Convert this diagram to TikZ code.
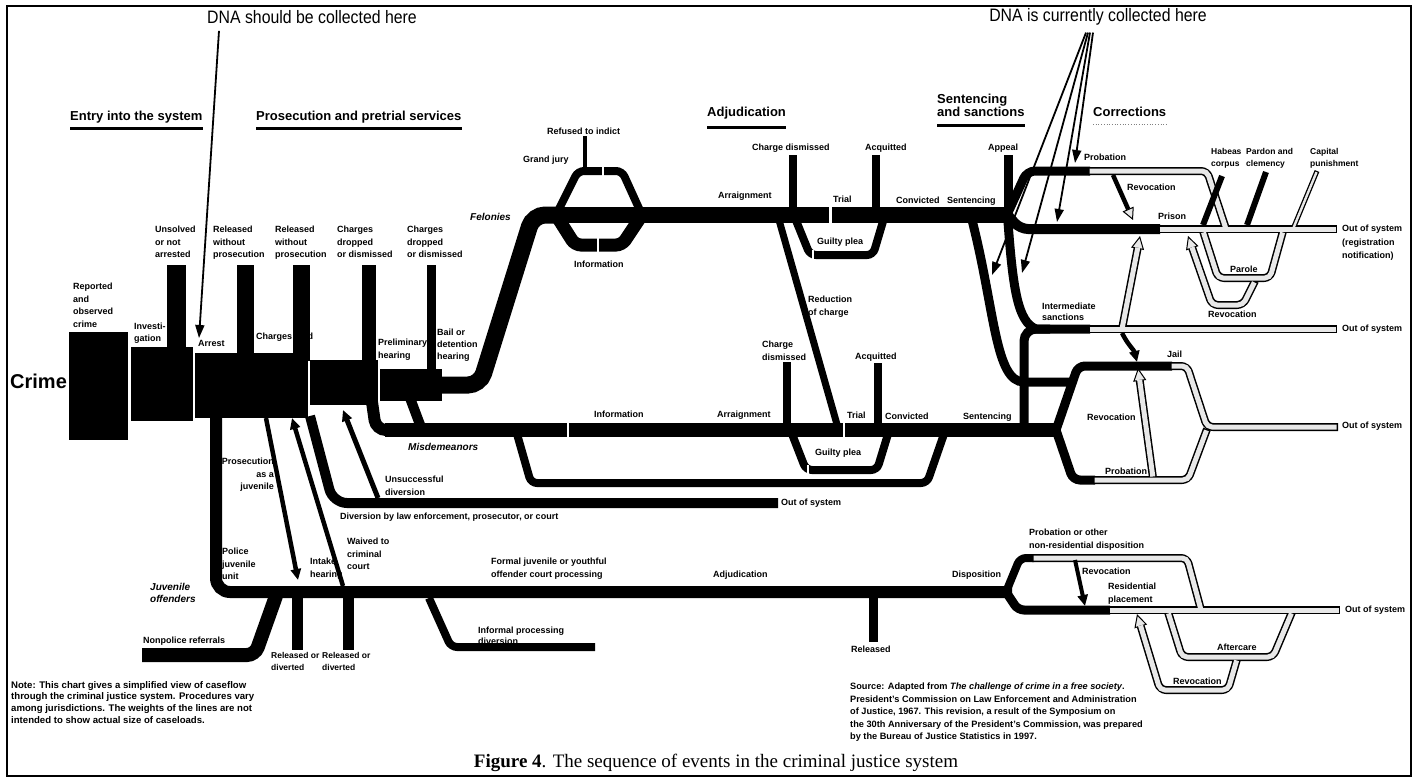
\documentclass[tikz,border=0pt]{standalone}
\usepackage{fontspec}
\setmainfont{Liberation Serif}
\setsansfont{Liberation Sans}
\newfontfamily\dnafont[FakeStretch=0.88]{Liberation Sans}
\usetikzlibrary{arrows.meta}
\tikzset{
  lb/.style={anchor=north west, inner sep=0pt, align=left, font=\sffamily\bfseries\fontsize{9}{12.5}\selectfont},
  lbs/.style={lb, font=\sffamily\bfseries\fontsize{8.5}{12}\selectfont},
  lbi/.style={lb, font=\sffamily\bfseries\itshape\fontsize{10}{12.5}\selectfont},
  hd/.style={anchor=north west, inner sep=0pt, align=left, font=\sffamily\bfseries\fontsize{13}{13}\selectfont},
  rulebar/.style={line width=3pt},
  pipe/.style={line width=#1, rounded corners=6pt},
  hout/.style={line width=8pt, rounded corners=6pt},
  hin/.style={line width=5pt, draw=gray!18, rounded corners=5pt, shorten <=1.5pt, shorten >=1.5pt},
  hthinout/.style={line width=5pt},
  hthinin/.style={line width=2.4pt, draw=gray!18, shorten <=1.2pt, shorten >=1.2pt},
  hoarr/.style={-{Triangle[length=13pt,width=13pt,line width=1pt,fill=gray!18]}},
  hiarr/.style={shorten >=12pt},
  dna/.style={line width=1.8pt, -{Triangle[length=13pt,width=9pt]}},
  barr/.style={-{Triangle[length=11pt,width=10pt]}},
  oarr/.style={-{Triangle[length=12pt,width=12pt,line width=1pt,fill=gray!18]}},
  gapw/.style={fill=white},
  dnalabel/.style={inner sep=0pt, font=\dnafont\fontsize{18}{18}\selectfont},
}
\newcommand\hpaths[2]{%
 \draw[#1] (1088,171) -- (1207,171) -- (1226,229);
 \draw[#1] (1158,229) -- (1337,229);
 \draw[#1] (1203,231) -- (1218,278) -- (1270,278) -- (1283,231);
 \draw[#1,#2] (1255,281) -- (1243,305) -- (1212,305) -- (1188,236);
 \draw[#1] (1088,329) -- (1337,329);
 \draw[#1,#2] (1122,329) -- (1140,236);
 \draw[#1] (1170,366) -- (1187,366) -- (1207,427) -- (1338,427);
 \draw[#1] (1093,480) -- (1188,480) -- (1207,429);
 \draw[#1,#2] (1153,478) -- (1138,368);
 \draw[#1] (1032,558) -- (1187,558) -- (1201,610);
 \draw[#1] (1108,610) -- (1340,610);
 \draw[#1] (1168,612) -- (1182,657) -- (1273,657) -- (1292,612);
 \draw[#1,#2] (1237,659) -- (1228,690) -- (1160,690) -- (1137,614);
}
\begin{document}
\begin{tikzpicture}[x=1pt,y=-1pt]
\useasboundingbox (0,0) rectangle (1418,779);
\fill[white] (0,0) rectangle (1418,779);
\draw[line width=1.5pt] (7,6) rectangle (1411,776);

% labels that sit under shapes
\node[lb] (lbChfiled) at (256,333) {Charges filed};
\node[lb, anchor=north east, align=right] (lbProsJuv) at (274,458) {Prosecution\\as a\\juvenile};

% entry blocks
\fill (69,332) rectangle (128,440);
\fill (131,347) rectangle (193,421);
\fill (195,353) rectangle (308,418);
\fill (310,360) rectangle (378,405);
\fill (380,369) rectangle (442,401);
% stubs
\fill (167,265) rectangle (186,348);
\fill (237,265) rectangle (254,354);
\fill (293,265) rectangle (310,361);
\fill (362,265) rectangle (376,361);
\fill (427,265) rectangle (436,370);

% felony path
\draw[pipe=17pt, rounded corners=12pt] (436,385) -- (480,385) -- (533,215) -- (562,215);
\draw[pipe=8pt] (556,215) -- (578,171) -- (622,171) -- (642,215);
\draw[pipe=13pt] (556,215) -- (575,245) -- (622,245) -- (642,215);
\draw[line width=16pt] (555,215) -- (1012,215);
\draw[line width=3.5pt] (585,169) -- (585,136);
\draw[line width=8pt] (793,212) -- (793,155);
\draw[line width=8pt] (876,212) -- (876,155);
\draw[pipe=8pt] (795,218) -- (810,255) -- (873,255) -- (884,218);
\draw[line width=7pt] (779,220) -- (838,428);

% misdemeanor path
\draw[pipe=12pt, rounded corners=10pt] (372,402) -- (376,430) -- (400,430);
\draw[pipe=10pt] (410,398) -- (422,430) -- (440,430);
\draw[line width=14pt] (385,430) -- (1060,430);
\draw[line width=8pt] (787,427) -- (787,362);
\draw[line width=8pt] (878,427) -- (878,363);
\draw[pipe=8pt] (792,434) -- (806,470) -- (877,470) -- (888,434);
\draw[pipe=8pt] (517,434) -- (531,483) -- (927,483) -- (944,434);

% diversion
\draw[pipe=10pt, rounded corners=14pt] (310,416) -- (333,503) -- (778,503);
\draw[line width=5pt, barr] (378,498) -- (343,410);

% juvenile
\draw[pipe=12pt, rounded corners=14pt] (216,416) -- (216,592) -- (1012,592);
\draw[line width=4.5pt, barr] (266,418) -- (298,580);
\draw[line width=4.5pt, barr] (343,586) -- (292,418);
\draw[pipe=14pt, rounded corners=8pt] (142,655) -- (255,655) -- (276,596);
\draw[line width=11pt] (297,595) -- (297,650);
\draw[line width=11pt] (348,595) -- (348,650);
\draw[pipe=8pt] (429,598) -- (451,647) -- (595,647);
\draw[line width=9pt] (873,595) -- (873,642);

% gaps
\fill[gapw] (829,206) rectangle (831.5,224);
\fill[gapw] (602,166) rectangle (604,176);
\fill[gapw] (597,237) rectangle (599,254);
\fill[gapw] (812,250) rectangle (814,260);
\fill[gapw] (567,422) rectangle (569,438);
\fill[gapw] (843,422) rectangle (845,438);
\fill[gapw] (807,465) rectangle (809,475);

% corrections black parts
\draw[pipe=9pt, rounded corners=8pt] (1006,217) -- (1027,171) -- (1090,171);
\draw[pipe=10pt, rounded corners=8pt] (1006,213) -- (1020,229) -- (1160,229);
\draw[line width=9pt] (1008,213) -- (1008,155);
\draw[line width=9pt] (1008,222) .. controls (1013,290) and (1018,322) .. (1036,329) -- (1090,329);
\draw[pipe=9pt, rounded corners=12pt] (1024,430) -- (1024,329) -- (1050,329);
\draw[line width=9pt] (972,220) .. controls (995,310) and (995,382) .. (1024,382) -- (1072,382);
\draw[pipe=9pt, rounded corners=7pt] (1056,430) -- (1078,366) -- (1172,366);
\draw[pipe=9pt, rounded corners=7pt] (1056,430) -- (1073,480) -- (1095,480);
\draw[pipe=8pt] (1006,592) -- (1020,558) -- (1034,558);
\draw[pipe=9pt] (1006,592) -- (1018,610) -- (1110,610);

% hollow pipes
\draw[hthinout] (1293,229) -- (1317,171);
\hpaths{hout}{hoarr}
\draw[hthinin] (1293,229) -- (1317,171);
\hpaths{hin}{hiarr}

% black connectors in corrections
\draw[line width=4.5pt, oarr] (1113,175) -- (1133,220);
\draw[line width=4.5pt, barr] (1122,333) .. controls (1128,345) and (1134,350) .. (1137,362);
\draw[line width=4pt, barr] (1075,560) -- (1085,606);
\draw[line width=6pt] (1203,225) -- (1222,176);
\draw[line width=6pt] (1247,225) -- (1266,172);

% headings
\node[hd] (hEntry) at (70,111) {Entry into the system};
\draw[rulebar] (hEntry.west |- 0,128) -- (hEntry.east |- 0,128);
\node[hd] (hPros) at (256,111) {Prosecution and pretrial services};
\draw[rulebar] (hPros.west |- 0,128) -- (hPros.east |- 0,128);
\node[hd] (hAdj) at (707,107) {Adjudication};
\draw[rulebar] (hAdj.west |- 0,127) -- (hAdj.east |- 0,127);
\node[hd] (hSent) at (937,94) {Sentencing\\and sanctions};
\draw[rulebar] (hSent.west |- 0,125) -- (hSent.east |- 0,125);
\node[hd] (hCorr) at (1093,107) {Corrections};
\draw[gray, dotted, line width=0.7pt] (hCorr.west |- 0,124) -- (hCorr.east |- 0,124);

% entry labels
\node[anchor=west, inner sep=0pt, font=\sffamily\bfseries\fontsize{20}{20}\selectfont] (lbCrime) at (10,381) {Crime};
\node[lb] (lbReported) at (73,283) {Reported\\and\\observed\\crime};
\node[lb, font=\sffamily\bfseries\fontsize{9}{12}\selectfont] (lbInv) at (134,323) {Investi-\\gation};
\node[lb] (lbUnsolved) at (155,226) {Unsolved\\or not\\arrested};
\node[lb] (lbArrest) at (198,340) {Arrest};
\node[lb] (lbRel1) at (213,226) {Released\\without\\prosecution};
\node[lb] (lbRel2) at (275,226) {Released\\without\\prosecution};
\node[lb] (lbDrop1) at (337,226) {Charges\\dropped\\or dismissed};
\node[lb] (lbDrop2) at (407,226) {Charges\\dropped\\or dismissed};
\node[lb] (lbPrelim) at (378,339) {Preliminary\\hearing};
\node[lb, font=\sffamily\bfseries\fontsize{9}{12}\selectfont] (lbBail) at (437,329) {Bail or\\detention\\hearing};

% adjudication labels
\node[lb] (lbRefused) at (547,128) {Refused to indict};
\node[lb] (lbGrand) at (523,156) {Grand jury};
\node[lb] (lbInfo1) at (574,261) {Information};
\node[lbi] (lbFel) at (470,213) {Felonies};
\node[lb] (lbArr1) at (718,192) {Arraignment};
\node[lb] (lbChd1) at (752,144) {Charge dismissed};
\node[lb] (lbTrial1) at (833,196) {Trial};
\node[lb] (lbAcq1) at (865,144) {Acquitted};
\node[lb] (lbConv1) at (896,197) {Convicted};
\node[lb] (lbSent1) at (947,197) {Sentencing};
\node[lb] (lbGuilty1) at (817,238) {Guilty plea};
\node[lb] (lbRed) at (808,296) {Reduction\\of charge};
\node[lb] (lbInfo2) at (594,411) {Information};
\node[lb] (lbArr2) at (717,411) {Arraignment};
\node[lb] (lbChd2) at (762,341) {Charge\\dismissed};
\node[lb] (lbTrial2) at (847,412) {Trial};
\node[lb] (lbAcq2) at (855,353) {Acquitted};
\node[lb] (lbConv2) at (885,413) {Convicted};
\node[lb] (lbGuilty2) at (815,449) {Guilty plea};
\node[lb] (lbSent2) at (963,413) {Sentencing};
\node[lbi] (lbMisd) at (408,443) {Misdemeanors};
\node[lb] (lbOut1) at (781,499) {Out of system};
\node[lb] (lbDivby) at (340,513) {Diversion by law enforcement, prosecutor, or court};
\node[lb] (lbUnsucc) at (385,476) {Unsuccessful\\diversion};

% juvenile labels
\node[lb] (lbWaived) at (347,538) {Waived to\\criminal\\court};
\node[lb] (lbPolice) at (222,548) {Police\\juvenile\\unit};
\node[lb] (lbIntake) at (310,558) {Intake\\hearing};
\node[lbi] (lbJuv) at (150,583) {Juvenile\\offenders};
\node[lb] (lbNonpol) at (143,637) {Nonpolice referrals};
\node[lbs] (lbRelDiv1) at (271,652) {Released or\\diverted};
\node[lbs] (lbRelDiv2) at (322,652) {Released or\\diverted};
\node[lb] (lbFormal) at (491,558) {Formal juvenile or youthful\\offender court processing};
\node[lb] (lbAdjJ) at (713,571) {Adjudication};
\node[lb, font=\sffamily\bfseries\fontsize{9}{11}\selectfont] (lbInformal) at (478,627) {Informal processing\\diversion};
\node[lb] (lbReleased) at (851,646) {Released};

% corrections labels
\node[lb] (lbAppeal) at (988,144) {Appeal};
\node[lb] (lbProb1) at (1084,154) {Probation};
\node[lb] (lbRevA) at (1127,184) {Revocation};
\node[lb] (lbPrison) at (1158,213) {Prison};
\node[lbs] (lbHabeas) at (1211,148) {Habeas\\corpus};
\node[lbs] (lbPardon) at (1246,148) {Pardon and\\clemency};
\node[lbs] (lbCapital) at (1310,148) {Capital\\punishment};
\node[lb, font=\sffamily\bfseries\fontsize{9}{13.5}\selectfont] (lbOutA) at (1342,225) {Out of system\\(registration\\notification)};
\node[lb] (lbParole) at (1230,266) {Parole};
\node[lb] (lbRevB) at (1208,311) {Revocation};
\node[lb, font=\sffamily\bfseries\fontsize{9}{11}\selectfont] (lbInter) at (1042,303) {Intermediate\\sanctions};
\node[lb] (lbOutB) at (1342,325) {Out of system};
\node[lb] (lbJail) at (1167,351) {Jail};
\node[lb] (lbRevC) at (1087,414) {Revocation};
\node[lb] (lbOutC) at (1342,422) {Out of system};
\node[lb] (lbProb2) at (1105,468) {Probation};
\node[lb] (lbProbOther) at (1029,529) {Probation or other\\non-residential disposition};
\node[lb] (lbDisp) at (952,571) {Disposition};
\node[lb] (lbRevD) at (1082,568) {Revocation};
\node[lb] (lbResid) at (1108,583) {Residential\\placement};
\node[lb] (lbOutD) at (1345,606) {Out of system};
\node[lb] (lbAfter) at (1217,644) {Aftercare};
\node[lb] (lbRevE) at (1173,678) {Revocation};

% notes
\node[lb, font=\sffamily\bfseries\fontsize{9.6}{11.7}\selectfont] (lbNote) at (11,681) {Note: This chart gives a simplified view of caseflow\\through the criminal justice system. Procedures vary\\among jurisdictions. The weights of the lines are not\\intended to show actual size of caseloads.};
\node[lb, font=\sffamily\bfseries\fontsize{9.2}{12.4}\selectfont] (lbSource) at (850,683) {Source: Adapted from \textit{The challenge of crime in a free society}.\\President's Commission on Law Enforcement and Administration\\of Justice, 1967. This revision, a result of the Symposium on\\the 30th Anniversary of the President's Commission, was prepared\\by the Bureau of Justice Statistics in 1997.};
\node[inner sep=0pt, font=\rmfamily\fontsize{19}{19}\selectfont] (lbCaption) at (716,763) {\textbf{Figure 4}. The sequence of events in the criminal justice system};

% DNA annotations
\node[dnalabel] (dnaA) at (312,17) {DNA should be collected here};
\coordinate (arrestpt) at (199,338);
\draw[dna] ([xshift=-93pt,yshift=-7pt]dnaA.south) -- (arrestpt);
\node[dnalabel] (dnaB) at (1098,17) {DNA is currently collected here};
\coordinate (tipProb) at (1075,163);
\coordinate (tipPrison) at (1057,222);
\coordinate (tipInter) at (1022,273);
\coordinate (tipJail) at (992,275);
\draw[dna] ([xshift=-5pt,yshift=-7pt]dnaB.south) -- (tipProb);
\draw[dna] ([xshift=-8pt,yshift=-7pt]dnaB.south) -- (tipPrison);
\draw[dna] ([xshift=-10pt,yshift=-7pt]dnaB.south) -- (tipInter);
\draw[dna] ([xshift=-12pt,yshift=-7pt]dnaB.south) -- (tipJail);
\end{tikzpicture}
\end{document}
